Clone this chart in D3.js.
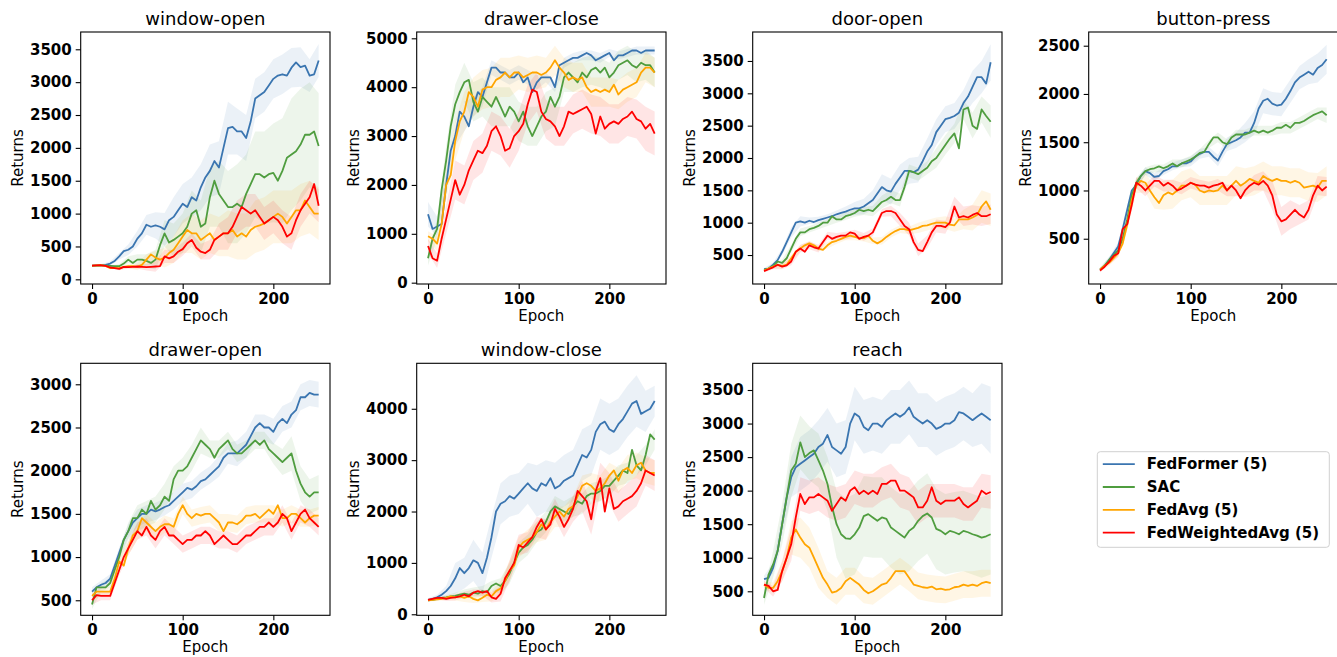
<!DOCTYPE html>
<html>
<head>
<meta charset="utf-8">
<script src="https://cdn.jsdelivr.net/npm/d3@7"></script>
<style>
  body { margin: 0; background: #fff; }
  svg { font-family: "DejaVu Sans", sans-serif; }
</style>
</head>
<body>
<svg id="chart" width="1337" height="657"></svg>
<script>

// epochs for the mean curves and for the shaded spread
var epochs = d3.range(0, 251, 5)
var bandEpochs = d3.range(0, 251, 10)

var seriesNames = ["FedFormer (5)", "SAC", "FedAvg (5)", "FedWeightedAvg (5)"]
var seriesColors = ["#3a75b0", "#4f9d3f", "#ffa500", "#ff0000"]

var taskTitles = ["window-open", "drawer-close", "door-open", "button-press", "drawer-open", "window-close", "reach"]
var xTicks = [0, 100, 200]

// ---- window-open
var windowOpenFedFormer = [210,212,215,220,240,280,350,430,450,500,620,700,830,800,820,800,760,900,950,1050,1150,1100,1250,1200,1400,1550,1650,1800,1700,2000,2300,2320,2250,2250,2150,2400,2750,2800,2850,2950,3050,3100,3120,3100,3220,3300,3230,3250,3100,3120,3330]
var windowOpenSAC = [205,210,212,210,205,200,200,240,300,250,300,300,280,250,300,520,700,560,600,650,700,800,1000,1050,800,850,1250,1500,1300,1200,1100,1100,1150,1100,1300,1450,1600,1600,1550,1600,1620,1500,1650,1850,1900,1950,2050,2200,2200,2250,2030]
var windowOpenFedAvg = [210,212,215,205,170,175,170,190,200,200,190,220,300,380,330,300,330,400,450,550,650,750,700,700,600,650,700,600,650,700,700,750,650,700,650,750,800,820,850,900,950,1000,950,850,950,1050,1050,1200,1100,1000,1000]
var windowOpenFedWeightedAvg = [210,212,214,205,180,170,160,190,185,190,195,190,185,190,195,200,350,320,350,420,460,550,600,480,420,400,450,600,650,700,700,800,950,1100,1050,1000,1050,950,850,900,950,900,800,650,700,900,1050,1150,1250,1450,1120]
var windowOpenSpread = [
  [20,20,30,50,80,120,150,200,250,300,300,300,350,400,400,400,350,350,300,300,300,300,300,300,250,250],
  [10,10,10,30,50,80,100,150,200,250,300,350,400,450,500,550,600,600,650,700,750,800,850,850,800,800],
  [10,10,10,20,30,50,80,100,150,200,250,300,300,300,300,350,350,350,400,400,400,400,400,400,400,400],
  [10,10,10,20,20,30,50,80,100,100,100,100,120,150,200,250,250,250,250,250,250,250,250,250,250,250]
]

// ---- drawer-close
var drawerCloseFedFormer = [1400,1100,1150,1200,2000,2700,3000,3500,3400,3200,3600,3900,3800,4100,4400,4400,4300,4300,4200,4200,4300,4100,4200,3900,4100,4200,4200,4200,4000,4450,4500,4550,4600,4600,4650,4700,4650,4550,4600,4650,4700,4550,4650,4650,4700,4750,4750,4700,4750,4750,4750]
var drawerCloseSAC = [500,900,1100,1900,2500,3200,3650,3900,4100,4150,3700,3500,3800,3700,3600,3800,3600,3400,3600,3500,3300,3500,3200,3000,3200,3400,3500,3800,3600,3800,4200,4300,4200,4100,4300,4200,4350,4400,4300,4400,4200,4300,4450,4500,4550,4450,4400,4500,4450,4450,4300]
var drawerCloseFedAvg = [950,900,800,1200,2000,2200,2900,3300,3500,3900,3800,3600,3950,4000,4000,4150,4200,4300,4200,4300,4300,4200,4250,4300,4300,4250,4300,4400,4550,4400,4300,4150,4200,4150,4200,4000,3900,3950,3900,3950,3900,4050,3850,3950,4000,4050,4100,4300,4400,4400,4300]
var drawerCloseFedWeightedAvg = [750,500,450,900,1300,1700,2100,1800,2000,2300,2500,2700,2650,2800,3100,3200,3000,2700,2750,3000,3100,3250,3650,3950,3900,3500,3350,3300,3200,3000,3200,3500,3450,3500,3550,3600,3450,3050,3400,3150,3250,3300,3250,3350,3400,3500,3350,3300,3150,3250,3050]
var drawerCloseSpread = [
  [250,200,200,200,300,200,200,150,150,150,150,150,150,100,100,100,100,100,100,100,80,80,80,80,80,80],
  [150,200,300,400,400,400,400,400,400,400,400,400,400,400,400,300,300,300,300,300,300,300,300,300,300,300],
  [100,150,300,400,400,400,400,400,400,400,350,350,350,300,300,300,300,300,300,300,300,300,300,300,300,300],
  [150,150,300,400,400,400,400,400,400,400,400,400,400,400,400,400,400,400,400,400,400,400,400,400,450,450]
]

// ---- door-open
var doorOpenFedFormer = [280,290,350,420,550,700,850,1000,1020,1000,1030,1010,1040,1060,1080,1100,1130,1150,1170,1200,1220,1220,1250,1300,1350,1450,1550,1500,1480,1600,1700,1800,1800,1780,1820,1950,2100,2200,2400,2500,2600,2620,2650,2700,2850,2950,3100,3250,3250,3150,3480]
var doorOpenSAC = [270,290,330,400,380,450,600,750,850,850,900,920,950,1000,1000,1100,1050,1050,1100,1120,1150,1200,1180,1200,1180,1250,1320,1350,1400,1350,1350,1550,1800,1780,1750,1800,1850,1950,2000,2100,2200,2300,2380,2150,2750,2780,2500,2450,2750,2650,2560]
var doorOpenFedAvg = [260,290,320,350,330,350,450,550,600,650,680,650,600,580,650,700,720,750,780,800,780,760,760,800,720,680,720,780,830,870,900,900,880,900,920,950,960,980,1000,1000,1000,970,960,1050,1050,1050,1080,1120,1250,1330,1200]
var doorOpenFedWeightedAvg = [250,280,310,350,320,340,400,550,600,550,650,620,600,700,800,750,780,800,800,850,830,750,780,800,850,1000,1150,1180,1180,1150,1050,950,900,700,580,560,700,850,950,950,930,1000,1250,1080,1100,1080,1120,1150,1100,1100,1130]
var doorOpenSpread = [
  [20,30,50,80,80,50,50,50,60,80,100,120,150,200,200,200,200,200,200,200,200,200,200,250,250,280],
  [20,30,50,60,60,50,50,50,50,60,60,60,80,100,100,100,100,100,100,150,150,150,150,200,200,250],
  [20,30,40,50,50,40,40,50,50,50,50,50,50,60,60,60,60,80,80,80,100,100,150,200,250,250],
  [20,30,40,60,60,60,60,60,60,60,60,60,60,60,80,100,100,100,100,100,100,150,150,150,150,150]
]

// ---- button-press
var buttonPressFedFormer = [180,220,280,350,420,600,800,1000,1060,1150,1200,1180,1140,1150,1200,1220,1250,1250,1280,1280,1300,1350,1380,1400,1400,1350,1310,1400,1480,1500,1520,1550,1600,1600,1700,1850,1930,1950,1900,1880,1890,1950,2030,2120,2170,2200,2230,2200,2270,2300,2360]
var buttonPressSAC = [180,220,280,330,380,500,700,950,1080,1150,1200,1220,1230,1250,1230,1250,1280,1250,1280,1300,1320,1350,1390,1400,1480,1550,1550,1500,1480,1550,1580,1580,1580,1600,1620,1600,1620,1600,1620,1650,1650,1680,1650,1700,1700,1720,1750,1780,1800,1820,1780]
var buttonPressFedAvg = [180,220,250,300,350,450,650,900,1050,1100,1080,1000,930,870,950,980,960,1000,1050,1050,1080,1060,1000,980,1000,990,1000,1050,1000,1050,1100,1050,1080,1120,1100,1080,1150,1120,1100,1120,1100,1100,1080,1100,1080,1030,1040,1050,1030,1100,1100]
var buttonPressFedWeightedAvg = [170,210,260,320,350,600,650,850,1080,1050,1000,1050,1100,1100,1050,1080,1050,1000,1020,1050,1080,1060,1050,1050,1030,1050,1060,1080,1000,1050,1000,920,1000,1050,1080,1060,1100,1050,950,750,680,700,750,800,750,720,800,950,1050,1000,1040]
var buttonPressSpread = [
  [20,30,40,50,50,40,40,40,40,40,50,50,50,60,70,80,100,120,130,120,120,120,120,130,150,150],
  [20,30,40,50,50,40,40,40,40,40,40,40,40,50,50,50,50,50,50,50,60,60,60,60,60,80],
  [20,30,40,60,80,100,120,150,150,150,150,150,150,150,150,150,150,150,150,150,150,150,150,150,150,150],
  [20,30,40,60,60,60,60,60,60,60,60,60,60,60,60,60,60,80,100,150,150,150,100,100,100,100]
]

// ---- drawer-open
var drawerOpenFedFormer = [600,650,680,700,750,900,1050,1200,1300,1400,1450,1500,1500,1550,1530,1550,1580,1600,1650,1700,1750,1800,1780,1820,1880,1900,1950,2000,2050,2150,2200,2200,2200,2250,2300,2400,2500,2550,2500,2500,2450,2550,2600,2550,2650,2700,2850,2850,2900,2880,2880]
var drawerOpenSAC = [450,650,650,650,700,850,1000,1200,1300,1450,1450,1550,1500,1650,1550,1600,1700,1650,1900,2000,2000,2050,2150,2250,2350,2300,2250,2150,2250,2300,2350,2250,2200,2200,2250,2300,2350,2300,2350,2250,2200,2150,2100,2150,2200,2000,1850,1750,1700,1750,1750]
var drawerOpenFedAvg = [550,600,600,600,600,750,950,900,1100,1250,1300,1450,1400,1350,1300,1350,1380,1380,1350,1500,1600,1500,1450,1500,1480,1500,1500,1450,1400,1300,1400,1400,1380,1420,1480,1480,1500,1450,1500,1550,1500,1600,1450,1450,1500,1500,1450,1400,1450,1480,1480]
var drawerOpenFedWeightedAvg = [500,560,550,550,550,700,850,1000,1100,1200,1300,1250,1350,1250,1200,1300,1350,1250,1250,1200,1150,1200,1200,1250,1250,1300,1250,1150,1200,1250,1200,1150,1150,1200,1250,1250,1300,1350,1350,1400,1350,1400,1500,1450,1300,1400,1500,1550,1450,1400,1350]
var drawerOpenSpread = [
  [50,50,50,60,80,100,100,100,100,100,100,100,100,100,120,120,150,150,150,150,150,150,150,150,150,150],
  [50,50,50,80,100,150,150,150,150,150,150,150,150,100,100,100,100,100,100,100,120,150,200,200,200,200],
  [50,50,50,60,80,100,100,100,100,100,100,100,100,100,100,100,100,100,100,100,100,100,100,100,100,100],
  [50,50,50,60,80,100,100,100,100,100,100,100,100,100,100,100,100,100,100,100,100,100,100,100,100,100]
]

// ---- window-close
var windowCloseFedFormer = [280,300,330,380,450,550,700,900,800,900,1050,1000,800,1100,1500,2000,2150,2200,2300,2250,2350,2450,2550,2450,2400,2550,2500,2650,2450,2500,2600,2650,2700,2900,3100,3050,3200,3550,3700,3750,3600,3550,3700,3800,3950,4100,4150,3900,3950,4000,4150]
var windowCloseSAC = [270,280,300,320,330,350,360,380,400,380,420,400,450,430,550,600,550,650,800,1000,1200,1300,1350,1450,1600,1650,1800,2000,2100,2050,2000,1950,2100,2200,2150,2300,2350,2350,2400,2500,2500,2600,2700,2800,2750,3200,2900,2800,3100,3500,3400]
var windowCloseFedAvg = [270,280,290,300,320,350,330,350,320,350,300,270,320,380,350,450,500,650,850,950,1300,1400,1450,1500,1600,1750,1650,1800,1900,2000,1900,2050,2100,2300,2500,2550,2500,2400,2450,2550,2700,2800,2600,2800,2850,2750,2900,2950,2800,2750,2750]
var windowCloseFedWeightedAvg = [280,300,320,320,300,320,330,350,380,350,420,450,420,450,330,300,400,700,850,1000,1350,1300,1400,1500,1700,1850,1650,1750,2050,1900,1700,1850,2050,2400,2300,2200,1850,2400,2650,2000,2450,2050,2100,2200,2250,2300,2400,2550,2800,2750,2700]
var windowCloseSpread = [
  [30,50,100,300,300,400,400,400,400,400,400,400,500,500,500,500,500,500,500,500,500,500,500,500,400,300],
  [20,30,40,60,80,100,100,100,150,200,200,200,200,200,200,200,200,200,200,200,200,200,200,200,200,200],
  [20,30,40,60,80,80,80,100,150,200,200,200,200,200,200,200,200,200,250,250,250,250,250,250,250,250],
  [20,30,40,60,60,60,60,100,150,200,200,200,200,200,200,200,250,300,300,300,300,300,300,300,300,300]
]

// ---- reach
var reachFedFormer = [680,700,850,1100,1500,1900,2200,2350,2400,2450,2500,2550,2650,2700,2830,2650,2600,2550,2650,3000,3150,3100,2950,2900,3000,3000,2950,3050,3100,3150,3100,3150,3240,3100,3050,3000,3050,3000,2920,2950,3000,3000,3050,3170,3150,3100,3050,3100,3150,3100,3050]
var reachSAC = [400,750,900,1100,1500,1900,2300,2400,2720,2500,2560,2600,2450,2300,2100,1760,1500,1350,1290,1280,1350,1450,1620,1650,1600,1550,1600,1580,1450,1400,1350,1300,1400,1450,1550,1620,1660,1600,1430,1400,1350,1400,1380,1350,1400,1380,1350,1330,1300,1320,1350]
var reachFedAvg = [600,550,550,650,800,1000,1300,1420,1300,1200,1150,1000,850,700,600,480,500,550,650,700,650,600,520,470,500,550,600,620,700,800,800,800,700,600,580,560,550,570,530,540,520,530,560,570,600,580,600,580,620,640,620]
var reachFedWeightedAvg = [600,580,500,520,800,1000,1200,1600,1950,1800,1900,1900,1950,1900,1850,1700,1800,1900,1850,2000,2050,1950,2000,1950,2000,1950,2100,2100,2150,2150,2000,2000,1950,1900,1750,1750,1850,2050,1850,1800,1850,1850,1850,1900,1800,1750,1800,1850,2000,1950,1980]
var reachSpread = [
  [50,80,150,300,400,400,400,400,400,400,400,400,400,400,400,400,400,400,400,400,400,400,400,400,450,500],
  [100,200,300,400,400,400,400,400,500,600,600,600,600,600,600,600,600,600,600,600,600,600,600,600,600,600],
  [50,80,150,250,300,300,300,200,200,200,200,200,200,200,200,200,200,200,200,200,200,200,200,200,200,200],
  [50,80,150,250,250,250,250,250,250,250,250,250,250,250,250,250,250,250,250,250,250,250,250,250,250,250]
]

var taskMeans = [
  [windowOpenFedFormer, windowOpenSAC, windowOpenFedAvg, windowOpenFedWeightedAvg],
  [drawerCloseFedFormer, drawerCloseSAC, drawerCloseFedAvg, drawerCloseFedWeightedAvg],
  [doorOpenFedFormer, doorOpenSAC, doorOpenFedAvg, doorOpenFedWeightedAvg],
  [buttonPressFedFormer, buttonPressSAC, buttonPressFedAvg, buttonPressFedWeightedAvg],
  [drawerOpenFedFormer, drawerOpenSAC, drawerOpenFedAvg, drawerOpenFedWeightedAvg],
  [windowCloseFedFormer, windowCloseSAC, windowCloseFedAvg, windowCloseFedWeightedAvg],
  [reachFedFormer, reachSAC, reachFedAvg, reachFedWeightedAvg]
]
var taskSpreads = [windowOpenSpread, drawerCloseSpread, doorOpenSpread, buttonPressSpread, drawerOpenSpread, windowCloseSpread, reachSpread]

// y tick labels of each panel
var taskYTicks = [
  [0, 500, 1000, 1500, 2000, 2500, 3000, 3500],
  [0, 1000, 2000, 3000, 4000, 5000],
  [500, 1000, 1500, 2000, 2500, 3000, 3500],
  [500, 1000, 1500, 2000, 2500],
  [500, 1000, 1500, 2000, 2500, 3000],
  [0, 1000, 2000, 3000, 4000],
  [500, 1000, 1500, 2000, 2500, 3000, 3500]
]
// visible y range of each panel (matplotlib auto-limits)
var taskYLimits = [[-71, 3763], [-27, 5129], [52, 3948], [31, 2642], [326, 3243], [-20, 4885], [142, 3898]]

// layout
var panelW = 249.3, panelH = 252
var colLeft = [80.7, 416.7, 752.7, 1088.7]
var rowTop = [32, 363.3]

var svg = d3.select("#chart")

taskTitles.forEach(function(title, t) {

    var left = colLeft[t % 4]
    var top = rowTop[Math.floor(t / 4)]

    var g = svg.append("g").attr("transform", "translate(" + left + "," + top + ")")

    var x = d3.scaleLinear().domain([-12.5, 262.5]).range([0, panelW])
    var y = d3.scaleLinear().domain(taskYLimits[t]).range([panelH, 0])

    var means = taskMeans[t]
    var spreads = taskSpreads[t]

    // shaded spread first, then the mean curves on top
    means.forEach(function(mean, s) {
        var band = bandEpochs.map(function(e, i) {
            var m = mean[i * 2]
            return { e: e, lo: m - spreads[s][i], hi: m + spreads[s][i] }
        })
        var area = d3.area()
            .x(function(d) { return x(d.e) })
            .y0(function(d) { return y(d.lo) })
            .y1(function(d) { return y(d.hi) })
        g.append("path")
            .datum(band)
            .attr("d", area)
            .attr("fill", seriesColors[s])
            .attr("fill-opacity", 0.1)
    })

    means.forEach(function(mean, s) {
        var line = d3.line()
            .x(function(d, i) { return x(epochs[i]) })
            .y(function(d) { return y(d) })
        g.append("path")
            .datum(mean)
            .attr("d", line)
            .attr("fill", "none")
            .attr("stroke", seriesColors[s])
            .attr("stroke-width", 1.8)
            .attr("stroke-linejoin", "round")
    })

    // axes
    var yAxis = d3.axisLeft(y).tickValues(taskYTicks[t]).tickFormat(d3.format("d")).tickSize(5).tickPadding(4)
    var xAxis = d3.axisBottom(x).tickValues(xTicks).tickFormat(d3.format("d")).tickSize(5).tickPadding(4)

    var ya = g.append("g").call(yAxis)
    var xa = g.append("g").attr("transform", "translate(0," + panelH + ")").call(xAxis)

    ;[ya, xa].forEach(function(a) {
        a.select(".domain").remove()
        a.selectAll(".tick line").attr("stroke", "#000").attr("stroke-width", 1.1)
        a.selectAll(".tick text")
            .attr("fill", "#000")
            .style("font-size", "15px")
            .style("font-weight", "bold")
            .style("font-family", "DejaVu Sans")
    })

    // frame
    g.append("rect")
        .attr("width", panelW)
        .attr("height", panelH)
        .attr("fill", "none")
        .attr("stroke", "#000")
        .attr("stroke-width", 1.1)

    g.append("text")
        .attr("x", panelW / 2)
        .attr("y", -7)
        .attr("text-anchor", "middle")
        .style("font-size", "18px")
        .text(title)

    g.append("text")
        .attr("x", panelW / 2)
        .attr("y", panelH + 37)
        .attr("text-anchor", "middle")
        .style("font-size", "15px")
        .text("Epoch")

    g.append("text")
        .attr("transform", "translate(-58," + (panelH / 2) + ") rotate(-90)")
        .attr("text-anchor", "middle")
        .style("font-size", "15px")
        .text("Returns")
})

// legend
var legend = svg.append("g").attr("transform", "translate(1097.3,451.7)")
legend.append("rect")
    .attr("width", 232)
    .attr("height", 95.6)
    .attr("rx", 3)
    .attr("fill", "#fff")
    .attr("stroke", "#d0d0d0")

seriesNames.forEach(function(name, s) {
    var cy = 12.5 + s * 22.8
    legend.append("line")
        .attr("x1", 5.5).attr("x2", 37.5)
        .attr("y1", cy).attr("y2", cy)
        .attr("stroke", seriesColors[s])
        .attr("stroke-width", 1.8)
    legend.append("text")
        .attr("x", 49.5)
        .attr("y", cy)
        .attr("dy", "0.35em")
        .style("font-size", "15px")
        .style("font-weight", "bold")
        .text(name)
})

</script>
</body>
</html>
